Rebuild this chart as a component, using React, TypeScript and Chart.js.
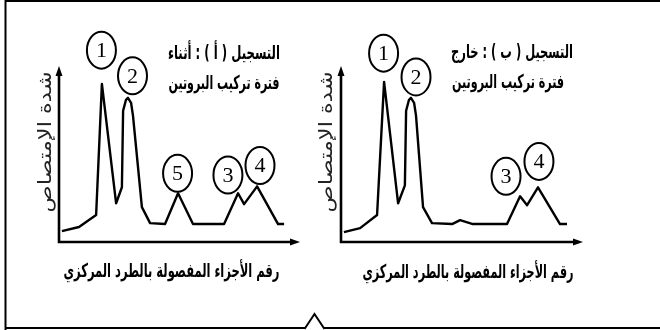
import React, { useEffect, useRef } from "react";
import { Chart, registerables } from "chart.js";

Chart.register(...registerables);

// ---------- Record (أ) : during protein synthesis ----------
const fractionsA = [1.2, 8.3, 15.4, 17.8, 23.7, 26.1, 26.6, 27.8, 28.6, 29.9, 30.7, 34.4, 37.8, 44.0, 49.4, 55.6, 68.5, 74.3, 76.8, 82.2, 90.9, 93.4];
const absorbA = [6.2, 8.5, 15.3, 89.8, 22.0, 31.1, 74.6, 80.8, 81.9, 79.1, 71.8, 19.8, 10.7, 10.2, 27.7, 10.2, 10.2, 27.7, 21.5, 31.6, 10.2, 10.2];
const tagTextA = ["1", "2", "5", "3", "4"];
const tagXA = [17.6, 30.5, 49.2, 70.1, 83.4];
const tagYA = [109.0, 94.4, 39.0, 38.1, 43.5];
const titleA = ["التسجيل ( أ ) : أثناء", "فترة تركيب البروتين"];

// ---------- Record (ب) : outside protein synthesis ----------
const fractionsB = [1.2, 7.9, 14.9, 17.8, 23.6, 26.4, 26.9, 28.1, 28.9, 30.2, 31.0, 33.9, 37.6, 45.9, 49.2, 54.5, 68.6, 74.0, 76.9, 81.4, 90.5, 93.4];
const absorbB = [5.6, 7.9, 15.3, 91.0, 22.0, 32.2, 74.6, 80.8, 81.9, 79.1, 71.8, 19.8, 10.7, 10.2, 12.4, 10.2, 10.2, 26.0, 20.9, 31.1, 10.2, 10.2];
const tagTextB = ["1", "2", "3", "4"];
const tagXB = [17.6, 31.0, 68.2, 81.8];
const tagYB = [107.3, 93.8, 37.3, 45.8];
const titleB = ["التسجيل ( ب ) : خارج", "فترة تركيب البروتين"];

const xTitle = "رقم الأجزاء المفصولة بالطرد المركزي";
const yTitle = "شدة الإمتصاص";

function drawFit(
  ctx: CanvasRenderingContext2D,
  text: string,
  cx: number,
  cy: number,
  w: number,
  font: string,
  rot: number,
  color: string
) {
  ctx.save();
  ctx.font = font;
  ctx.direction = "rtl";
  ctx.textAlign = "center";
  ctx.textBaseline = "middle";
  ctx.fillStyle = color;
  const m = ctx.measureText(text).width || 1;
  ctx.translate(cx, cy);
  if (rot) ctx.rotate(rot);
  ctx.scale(w / m, 1);
  ctx.fillText(text, 0, 0);
  ctx.restore();
}

type Panel = {
  key: string;
  fx: number[];
  fy: number[];
  tags: string[];
  tx: number[];
  ty: number[];
  title: string[];
  pad: { left: number; right: number; top: number; bottom: number };
  titlePos: { x: number; y: number; w: number }[];
  xTitlePos: { x: number; y: number; w: number };
  yTitlePos: { x: number; y: number; w: number };
  frame: boolean;
};

const TEXT_FONT = 'bold 19px "DejaVu Sans", sans-serif';
const YTITLE_FONT = '18px "DejaVu Sans", sans-serif';

function makePlugin(p: Panel) {
  return {
    id: "panel" + p.key,
    afterDraw(chart: any) {
      const ctx: CanvasRenderingContext2D = chart.ctx;
      const { left, right, top, bottom } = chart.chartArea;
      const xs = chart.scales.x;
      const ys = chart.scales.y;
      ctx.save();
      if (p.frame) {
        ctx.strokeStyle = "#000";
        ctx.lineWidth = 2;
        ctx.beginPath();
        ctx.moveTo(5.5, 0);
        ctx.lineTo(5.5, 330);
        ctx.moveTo(4.5, 1);
        ctx.lineTo(660, 1);
        ctx.moveTo(4.5, 328);
        ctx.lineTo(660, 328);
        ctx.stroke();
        ctx.beginPath();
        ctx.moveTo(304.5, 329);
        ctx.lineTo(314.5, 314);
        ctx.lineTo(324.5, 329);
        ctx.closePath();
        ctx.fillStyle = "#fff";
        ctx.fill();
        ctx.beginPath();
        ctx.moveTo(304.5, 329);
        ctx.lineTo(314.5, 314);
        ctx.lineTo(324.5, 329);
        ctx.stroke();
      }
      // axes
      ctx.strokeStyle = "#000";
      ctx.fillStyle = "#000";
      ctx.lineWidth = 2.6;
      ctx.beginPath();
      ctx.moveTo(left, bottom + 1.3);
      ctx.lineTo(left, top + 8);
      ctx.moveTo(left - 1.3, bottom);
      ctx.lineTo(right - 8, bottom);
      ctx.stroke();
      ctx.beginPath();
      ctx.moveTo(left, top);
      ctx.lineTo(left - 3.5, top + 10);
      ctx.lineTo(left + 3.5, top + 10);
      ctx.closePath();
      ctx.fill();
      ctx.beginPath();
      ctx.moveTo(right, bottom);
      ctx.lineTo(right - 10, bottom - 3.5);
      ctx.lineTo(right - 10, bottom + 3.5);
      ctx.closePath();
      ctx.fill();

      // peak tags
      ctx.lineWidth = 2;
      p.tags.forEach((t, i) => {
        const cx = xs.getPixelForValue(p.tx[i]);
        const cy = ys.getPixelForValue(p.ty[i]);
        ctx.beginPath();
        ctx.ellipse(cx, cy, 14.5, 18.5, 0, 0, Math.PI * 2);
        ctx.strokeStyle = "#000";
        ctx.stroke();
        ctx.font = '22px "Liberation Serif", serif';
        ctx.textAlign = "center";
        ctx.textBaseline = "middle";
        ctx.fillStyle = "#000";
        ctx.fillText(t, cx, cy + 1);
      });

      // titles
      p.title.forEach((line, i) => {
        const tp = p.titlePos[i];
        drawFit(ctx, line, tp.x, tp.y, tp.w, TEXT_FONT, 0, "#000");
      });
      drawFit(ctx, xTitle, p.xTitlePos.x, p.xTitlePos.y, p.xTitlePos.w, TEXT_FONT, 0, "#000");
      drawFit(ctx, yTitle, p.yTitlePos.x, p.yTitlePos.y, p.yTitlePos.w, YTITLE_FONT, -Math.PI / 2, "#222");
      ctx.restore();
    },
  };
}

const panels: Panel[] = [
  {
    key: "A",
    fx: fractionsA,
    fy: absorbA,
    tags: tagTextA,
    tx: tagXA,
    ty: tagYA,
    title: titleA,
    pad: { left: 59, right: 360, top: 66, bottom: 88 },
    titlePos: [
      { x: 224, y: 54, w: 112 },
      { x: 224, y: 84, w: 111 },
    ],
    xTitlePos: { x: 171.5, y: 272, w: 216 },
    yTitlePos: { x: 46, y: 142, w: 141 },
    frame: true,
  },
  {
    key: "B",
    fx: fractionsB,
    fy: absorbB,
    tags: tagTextB,
    tx: tagXB,
    ty: tagYB,
    title: titleB,
    pad: { left: 341, right: 77, top: 66, bottom: 88 },
    titlePos: [
      { x: 512, y: 53, w: 122 },
      { x: 508, y: 83, w: 112 },
    ],
    xTitlePos: { x: 468, y: 273, w: 211 },
    yTitlePos: { x: 327, y: 142, w: 141 },
    frame: false,
  },
];

function PanelChart({ p }: { p: Panel }) {
  const ref = useRef<HTMLCanvasElement | null>(null);
  useEffect(() => {
    if (!ref.current) return;
    const chart = new Chart(ref.current, {
      type: "line",
      data: {
        datasets: [
          {
            data: p.fx.map((x, i) => ({ x, y: p.fy[i] })),
            borderColor: "#000",
            borderWidth: 2.4,
            pointRadius: 0,
            tension: 0,
            fill: false,
            borderJoinStyle: "round",
          },
        ],
      },
      options: {
        responsive: false,
        animation: false,
        maintainAspectRatio: false,
        layout: { padding: p.pad },
        scales: {
          x: { type: "linear", min: 0, max: 100, display: false },
          y: { type: "linear", min: 0, max: 100, display: false },
        },
        plugins: {
          legend: { display: false },
          tooltip: { enabled: false },
        },
        events: [],
      },
      plugins: [makePlugin(p)],
    } as any);
    return () => chart.destroy();
  }, [p]);
  return (
    <canvas
      ref={ref}
      width={660}
      height={330}
      style={{ position: "absolute", left: 0, top: 0, width: 660, height: 330 }}
    />
  );
}

export default function App() {
  return (
    <div
      style={{
        position: "fixed",
        left: 0,
        top: 0,
        width: 660,
        height: 330,
        background: "#fff",
        overflow: "hidden",
      }}
    >
      {panels.map((p) => (
        <PanelChart key={p.key} p={p} />
      ))}
    </div>
  );
}
